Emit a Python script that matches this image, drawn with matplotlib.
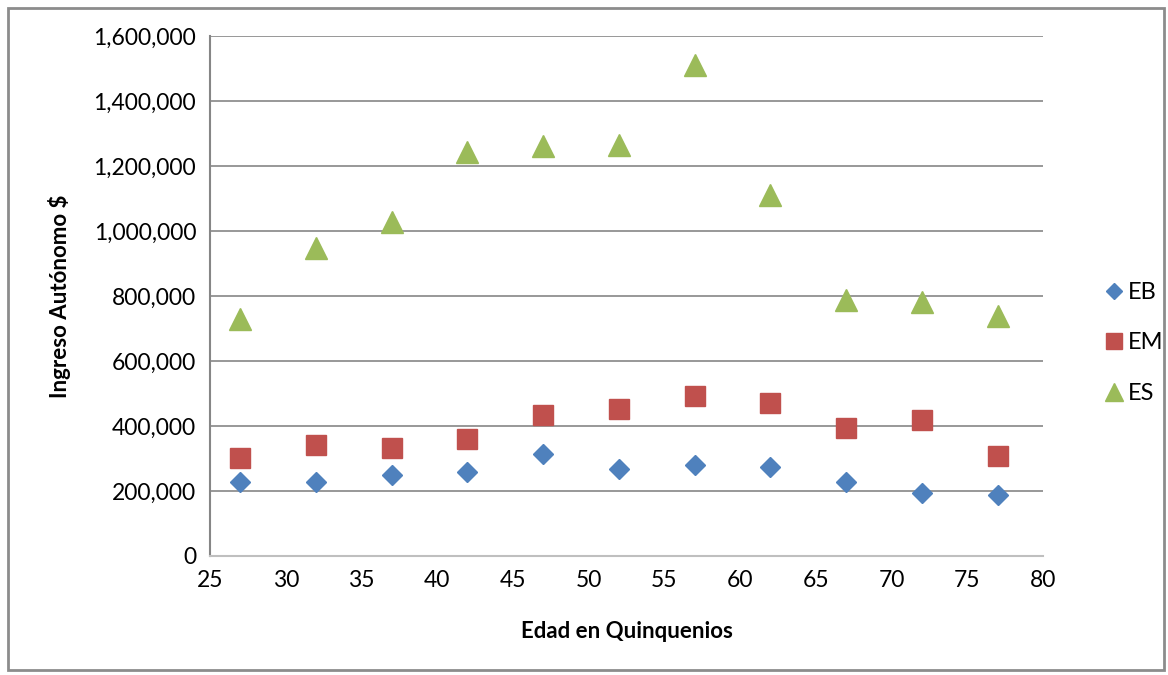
import matplotlib.pyplot as plt
from matplotlib.patches import Rectangle
from matplotlib.ticker import FuncFormatter

plt.rcParams['font.family'] = ['Lato', 'DejaVu Sans']

# Data
edad = [27, 32, 37, 42, 47, 52, 57, 62, 67, 72, 77]
eb = [228000, 228000, 249000, 258000, 314000, 269000, 280000, 274000, 229000, 195000, 189000]
em = [300000, 342000, 332000, 360000, 435000, 452000, 491000, 472000, 395000, 418000, 309000]
es = [728000, 948000, 1028000, 1243000, 1262000, 1265000, 1511000, 1111000, 788000, 782000, 738000]

fig = plt.figure(figsize=(11.68, 6.75), dpi=100)
ax = fig.add_axes([0.1798, 0.1763, 0.7132, 0.7704])

# outer chart border, Excel style
fig.patches.append(Rectangle((0.007, 0.007), 0.99, 0.981, transform=fig.transFigure,
                             fill=False, edgecolor='#8c8c8c', linewidth=2))

ax.plot(edad, eb, linestyle='none', marker='D', markersize=10.5, color='#4F81BD', label='EB')
ax.plot(edad, em, linestyle='none', marker='s', markersize=15, color='#C0504D', label='EM')
ax.plot(edad, es, linestyle='none', marker='^', markersize=16, color='#9BBB59', label='ES')

ax.set_xlim(25, 80)
ax.set_ylim(0, 1600000)
ax.set_xticks(range(25, 81, 5))
ax.set_yticks(range(0, 1600001, 200000))
ax.yaxis.set_major_formatter(FuncFormatter(lambda v, p: f'{int(v):,}'))
ax.grid(axis='y', color='#868686', linewidth=1.2)
ax.set_axisbelow(True)
ax.tick_params(length=0, labelsize=16.5, pad=10)

for s in ['top', 'right']:
    ax.spines[s].set_visible(False)
ax.spines['left'].set_color('#868686')
ax.spines['left'].set_linewidth(1.5)
ax.spines['bottom'].set_color('#bfbfbf')
ax.spines['bottom'].set_linewidth(1.5)

ax.set_xlabel('Edad en Quinquenios', fontsize=16, fontweight='bold', labelpad=22)
ax.set_ylabel('Ingreso Autónomo $', fontsize=16, fontweight='bold', labelpad=16)

ax.legend(loc='center left', bbox_to_anchor=(1.045, 0.41), frameon=False, fontsize=17,
          handletextpad=0.1, labelspacing=1.25, handlelength=1.0, markerscale=0.8)

fig.savefig('out.png', dpi=100)
